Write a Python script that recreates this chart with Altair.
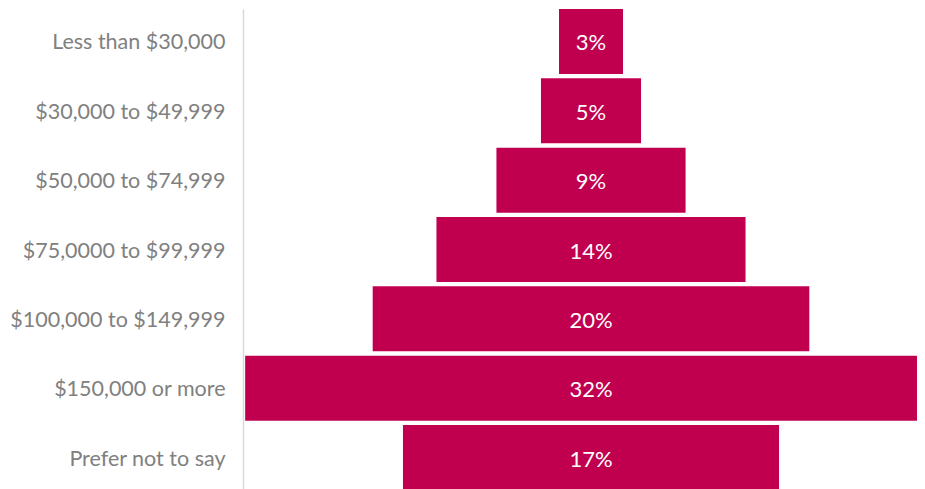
import altair as alt
import pandas as pd

categories = [
    "Less than $30,000",
    "$30,000 to $49,999",
    "$50,000 to $74,999",
    "$75,0000 to $99,999",
    "$100,000 to $149,999",
    "$150,000 or more",
    "Prefer not to say",
]
values = [2.96, 4.63, 8.75, 14.3, 20.2, 32.0, 17.4]
labels = ["3%", "5%", "9%", "14%", "20%", "32%", "17%"]

df = pd.DataFrame({"cat": categories, "value": values, "label": labels})

FONT = "Lato"
y = alt.Y(
    "cat:N",
    sort=categories,
    title=None,
    scale=alt.Scale(paddingInner=0.063, paddingOuter=0, range=[1, 482]),
    axis=alt.Axis(
        ticks=False,
        grid=False,
        labelPadding=18,
        labelOffset=2,
        labelFontSize=21.5,
        labelFont=FONT,
        labelColor="#808080",
        domainColor="#d9d9d9",
        domainWidth=1.5,
        labelLimit=400,
    ),
)
# centre of the bars sits 348 px right of the axis; plot area is 674 px wide
xscale = alt.Scale(domain=[-16.1, 16.1 * (674 - 348) / 348])

base = alt.Chart(df).transform_calculate(
    x0="-datum.value/2", x1="datum.value/2"
)

bars = base.mark_bar(color="#C0004F", clip=True).encode(
    y=y,
    x=alt.X("x0:Q", scale=xscale, axis=None),
    x2="x1:Q",
)

text = base.mark_text(color="white", fontSize=22, font=FONT, dy=2).encode(
    y=alt.Y("cat:N", sort=categories),
    x=alt.value(348),
    text="label:N",
)

chart = (
    (bars + text)
    .properties(
        width=674,
        height=481,
        autosize=alt.AutoSizeParams(type="none"),
        padding={"left": 235, "top": 0, "right": 0, "bottom": 0},
    )
    .configure_view(stroke="transparent", strokeWidth=0, strokeOpacity=0)
    .configure_axisX(domain=False, grid=False, labels=False, ticks=False)
    .configure(background="white", style={"cell": {"stroke": "transparent", "strokeWidth": 0}})
)

chart.save("out.html", embed_options={"renderer": "svg", "actions": False})
